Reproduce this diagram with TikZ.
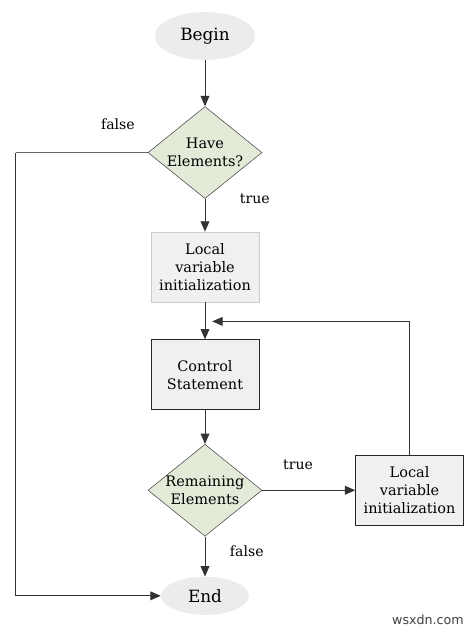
\documentclass[tikz,border=0pt]{standalone}
\usepackage{fontspec}
\setmainfont{DejaVu Serif}
\newfontfamily\marksans{DejaVu Sans}
\usetikzlibrary{arrows.meta}
\usetikzlibrary{positioning}
\usetikzlibrary{shapes.geometric}
\definecolor{termgray}{HTML}{ECECEC}
\definecolor{testgreen}{HTML}{E3EAD8}
\definecolor{boxgray}{HTML}{F0F0F0}
\definecolor{paleedge}{HTML}{C8CDD2}
\definecolor{linegray}{HTML}{333333}
\tikzset {
  flow path/.style = {
    draw = linegray,
    line width = 0.7pt
  },
  % path style with an arrow at the end
  arr/.style = {
    flow path,
    -{Triangle[length=2.6mm, width=2.2mm]}
  },
  % path style with no arrows
  narr/.style = {
    flow path
  }
}
\tikzset {
  flow node/.style = {
    align = center,
    font = \fontsize{10.3}{12.8}\selectfont
  },
  % start and end
  term/.style = {
    flow node,
    ellipse,
    fill = termgray,
    font = \fontsize{12}{14}\selectfont
  },
  % decision
  test/.style = {
    flow node,
    diamond,
    draw = black!70,
    fill = testgreen,
    minimum width = 2.85cm,
    minimum height = 2.3cm,
    inner sep = -8pt
  },
  % action
  act/.style = {
    flow node,
    rectangle,
    draw = black!85,
    fill = boxgray,
    minimum width = 2.7cm,
    minimum height = 1.75cm
  },
  % branch label
  lbl/.style = {
    font = \fontsize{10}{11}\selectfont
  }
}

\begin{document}
\begin{tikzpicture}
    \useasboundingbox (-5.125,0.9) rectangle (6.625,-14.85);

    \node[term, minimum width=2.5cm, minimum height=1.2cm] (begin) at (0,0) {Begin};
    \node[test] (have) [below=1.15cm of begin] {Have\\Elements?};
    \node[act, draw=paleedge] (init) [below=0.82cm of have] {Local\\variable\\initialization};
    \node[act] (control) [below=0.93cm of init] {Control\\Statement};
    \node[test] (remain) [below=0.85cm of control] {Remaining\\Elements};
    \node[act] (next) [right=2.325cm of remain] {Local\\variable\\initialization};
    \node[term, minimum width=2.2cm, minimum height=0.95cm] (end) [below=1.0cm of remain] {End};

    \coordinate [left=3.3cm of have.west] (false-turn);
    \coordinate [above right=0.45cm and 0.18cm of control.north] (loop-back);

    \node[lbl] (have-false) [above left=0.45cm and 0.2cm of have.west] {false};
    \node[lbl] (have-true) [right=0.75cm of have.south] {true};
    \node[lbl] (remain-true) [above right=0.4cm and 0.4cm of remain.east] {true};
    \node[lbl] (remain-false) [below right=0.1cm and 0.5cm of remain.south] {false};

    \draw[arr] (begin) -- (have);
    \draw[arr] (have) -- (init);
    \draw[arr] (init) -- (control);
    \draw[arr] (control) -- (remain);
    \draw[arr] (remain) -- (next);
    \draw[arr] (remain) -- (end);
    \draw[arr] (next.north) |- (loop-back);
    \draw[narr, draw=black!60] (have.west) -- (false-turn);
    \draw[arr] (false-turn) |- (end.west);

    \node[font=\marksans\fontsize{9}{10}\selectfont, text=black!75] (mark) at (5.575,-14.6) {wsxdn.com};
  \end{tikzpicture}
\end{document}
